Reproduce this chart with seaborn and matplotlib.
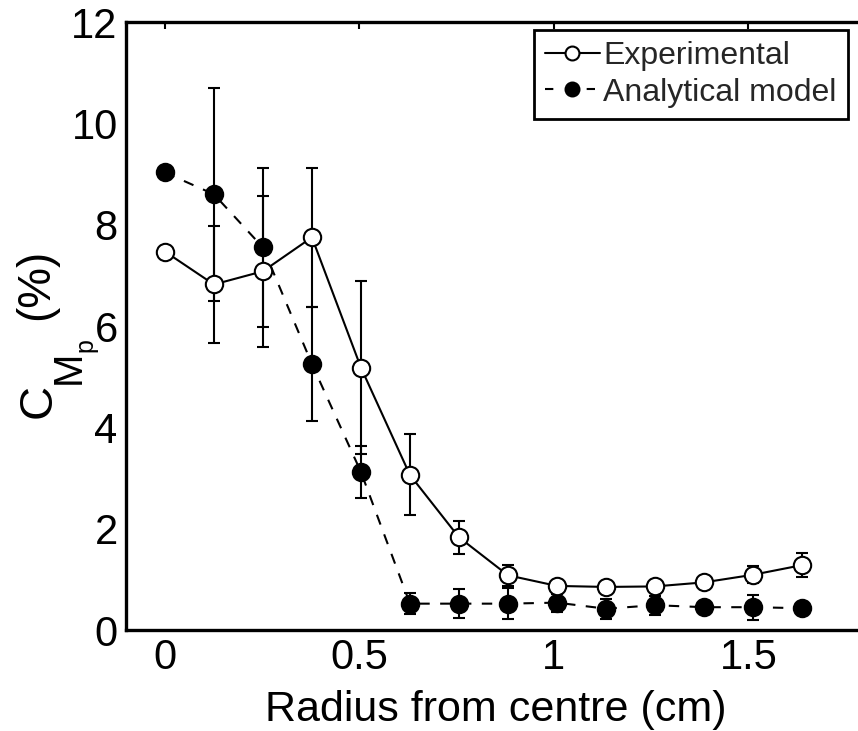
import matplotlib
matplotlib.use("Agg")
import matplotlib.pyplot as plt
from matplotlib.lines import Line2D
import seaborn as sns
import pandas as pd

radius = [0, 0.126, 0.252, 0.378, 0.504, 0.630, 0.756, 0.882, 1.008, 1.134, 1.260, 1.386, 1.512, 1.638]
experimental = [7.47, 6.82, 7.08, 7.75, 5.18, 3.06, 1.83, 1.08, 0.87, 0.85, 0.86, 0.94, 1.09, 1.28]
experimental_err = [0, 1.15, 1.49, 1.37, 1.70, 0.80, 0.33, 0.21, 0.08, 0.08, 0.08, 0.10, 0.17, 0.23]
model = [9.03, 8.60, 7.55, 5.25, 3.12, 0.52, 0.52, 0.52, 0.54, 0.42, 0.49, 0.45, 0.45, 0.43]
model_err = [0, 2.10, 1.57, 1.13, 0.51, 0.21, 0.28, 0.30, 0.18, 0.20, 0.19, 0.10, 0.25, 0.10]
series_names = ["Experimental", "Analytical model"]
x_ticks = [0, 0.5, 1, 1.5]
x_ticklabels = ["0", "0.5", "1", "1.5"]
y_ticks = [0, 2, 4, 6, 8, 10, 12]
x_label = "Radius from centre (cm)"

sns.set_theme(style="white")
plt.rcParams['font.family'] = ['Liberation Sans', 'DejaVu Sans']

df_exp = pd.DataFrame({"r": radius, "v": experimental, "e": experimental_err})
df_mod = pd.DataFrame({"r": radius, "v": model, "e": model_err})

W, H = 858, 731
fig = plt.figure(figsize=(W / 100, H / 100), dpi=100)
ax = fig.add_axes([126 / W, 1 - 630 / H, (865 - 126) / W, (630 - 22) / H])

ms = 12.5
mew = 1.5
lw = 1.5

# Analytical model
ax.errorbar(df_mod["r"], df_mod["v"], yerr=df_mod["e"], fmt="none", ecolor="black",
            elinewidth=lw, capsize=4.3, capthick=lw, zorder=2)
sns.lineplot(data=df_mod, x="r", y="v", ax=ax, color="black", lw=lw,
             linestyle=(0, (5, 5)), marker="o", markersize=ms, markerfacecolor="black",
             markeredgecolor="black", markeredgewidth=mew, zorder=3)

# Experimental
ax.errorbar(df_exp["r"], df_exp["v"], yerr=df_exp["e"], fmt="none", ecolor="black",
            elinewidth=lw, capsize=4.3, capthick=lw, zorder=4)
sns.lineplot(data=df_exp, x="r", y="v", ax=ax, color="black", lw=lw,
             linestyle="-", marker="o", markersize=ms, markerfacecolor="white",
             markeredgecolor="black", markeredgewidth=mew, zorder=5)

ax.set_xlim(-0.1, 1.8)
ax.set_ylim(0, 12)
ax.set_xticks(x_ticks)
ax.set_xticklabels(x_ticklabels)
ax.set_yticks(y_ticks)
ax.tick_params(direction="in", top=True, right=True, length=5, width=1.5,
               labelsize=30, colors="black", pad=6)
for s in ax.spines.values():
    s.set_linewidth(2.4)
    s.set_color("black")

ax.set_xlabel(x_label, fontsize=31, color="black")
ax.xaxis.set_label_coords((496 - 126) / 739, (630 - 690) / 608)
ax.set_ylabel("")

# y label: C_{M_p} (%) built from rotated text pieces
def ytext(s, px, py, size):
    fig.text(px / W, 1 - py / H, s, rotation=90, rotation_mode="anchor",
             ha="left", va="baseline", fontsize=size, color="black")

ytext("C", 51, 418, 34)
ytext("M", 80, 384, 29)
ytext("p", 92, 352, 18)
ytext("(%)", 48, 320, 33)

handles = [
    Line2D([], [], color="black", lw=lw, ls="-", marker="o", markersize=10,
           markerfacecolor="white", markeredgecolor="black", markeredgewidth=mew),
    Line2D([], [], color="black", lw=lw, ls=(0, (4, 6)), marker="o", markersize=10,
           markerfacecolor="black", markeredgecolor="black", markeredgewidth=mew),
]
leg = ax.legend(handles, series_names, loc="upper right",
                bbox_to_anchor=(848 / W, 1 - 30 / H), bbox_transform=fig.transFigure,
                borderaxespad=0, fontsize=23, frameon=True, fancybox=False,
                handlelength=1.7, handletextpad=0.12, borderpad=0.35, labelspacing=0.2)
leg.get_frame().set_edgecolor("black")
leg.get_frame().set_linewidth(2.0)
leg.get_frame().set_alpha(1)

fig.savefig("out.png", dpi=100)
